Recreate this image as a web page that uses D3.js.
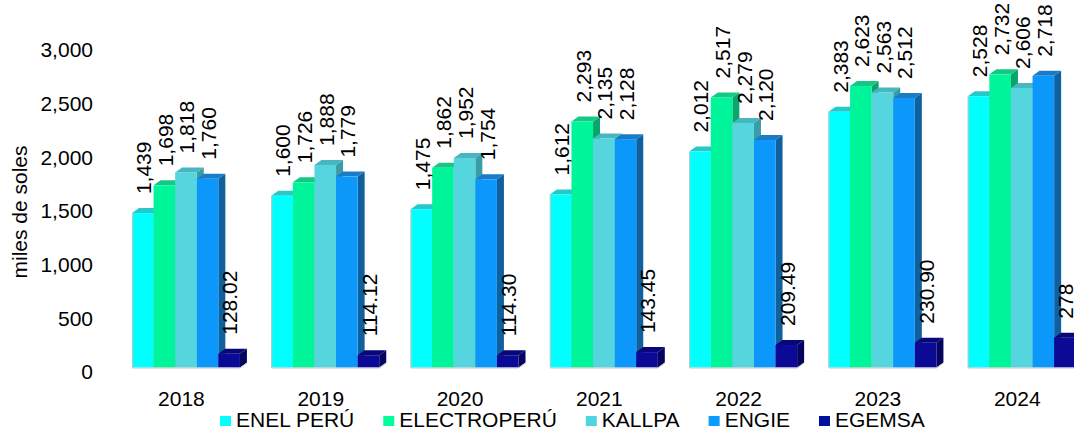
<!DOCTYPE html>
<html>
<head>
<meta charset="utf-8">
<script src="https://cdn.jsdelivr.net/npm/d3@7"></script>
<style>
  html, body { margin: 0; padding: 0; background: #fff; }
  svg { display: block; font-family: "Liberation Sans", Arial, sans-serif; }
</style>
</head>
<body>
<svg id="chart" width="1074" height="429"></svg>
<script>
const years = ["2018", "2019", "2020", "2021", "2022", "2023", "2024"];
const seriesNames = ["ENEL PERÚ", "ELECTROPERÚ", "KALLPA", "ENGIE", "EGEMSA"];
const enel = [1439, 1600, 1475, 1612, 2012, 2383, 2528];
const electroperu = [1698, 1726, 1862, 2293, 2517, 2623, 2732];
const kallpa = [1818, 1888, 1952, 2135, 2279, 2563, 2606];
const engie = [1760, 1779, 1754, 2128, 2120, 2512, 2718];
const egemsa = [128.02, 114.12, 114.30, 143.45, 209.49, 230.90, 278];
const yTicks = [0, 500, 1000, 1500, 2000, 2500, 3000];
const yTitle = "miles de soles";

const seriesValues = [enel, electroperu, kallpa, engie, egemsa];
const frontColors = ["#00FFFF", "#00F59A", "#55D6DE", "#0C98FA", "#0A0A96"];
const topColors   = ["#26C9C9", "#14C983", "#48B6BE", "#1A7CC6", "#07077A"];
const sideColors  = ["#15A9A9", "#0AA56A", "#3A9CA4", "#0E609E", "#050560"];
const legendColors = ["#00FFFF", "#00FF99", "#4DD6DE", "#0A9BFF", "#0010A0"];

const svg = d3.select("#chart");
const DX = 7, DY = 5;

const x = d3.scaleBand().domain(years).range([116.3, 1091.4]).paddingInner(0.225).paddingOuter(0.1125);
const xs = d3.scaleBand().domain(seriesNames).range([0, x.bandwidth()]).padding(0);
const y = d3.scaleLinear().domain([0, 3000]).range([367.5, 45.6]);

// Y axis tick labels
const yAxis = d3.axisLeft(y).tickValues(yTicks).tickFormat(d3.format(",")).tickSize(0).tickPadding(0);
const gy = svg.append("g").attr("transform", "translate(93,4.5)").call(yAxis);
gy.select(".domain").remove();
gy.selectAll("text").attr("font-size", 21).attr("fill", "#000")
  .attr("font-family", "Liberation Sans, Arial, sans-serif");

svg.append("text")
  .attr("transform", "translate(20,212) rotate(-90)")
  .attr("text-anchor", "middle").attr("dy", "0.35em")
  .attr("font-size", 21).text(yTitle);

// Bars
const base = y(0);
years.forEach((yr, i) => {
  const g = svg.append("g");
  const gx = x(yr);
  seriesNames.forEach((s, j) => {
    const v = seriesValues[j][i];
    const bx = gx + xs(s), bw = xs.bandwidth(), by = y(v);
    g.append("path")
      .attr("d", `M${bx + bw},${by} L${bx + bw + DX},${by - DY} L${bx + bw + DX},${base - DY} L${bx + bw},${base} Z`)
      .attr("fill", sideColors[j]);
    g.append("path")
      .attr("d", `M${bx},${by} L${bx + DX},${by - DY} L${bx + bw + DX},${by - DY} L${bx + bw},${by} Z`)
      .attr("fill", topColors[j]);
    g.append("rect").attr("x", bx).attr("y", by).attr("width", bw).attr("height", base - by)
      .attr("fill", frontColors[j]);
  });
  g.append("path")
    .attr("d", `M${gx + 0.5},${y(seriesValues[0][i])} L${gx + 0.5},${base + 0.5} L${gx + x.bandwidth()},${base + 0.5} L${gx + x.bandwidth() + DX},${base - DY + 0.5}`)
    .attr("fill", "none").attr("stroke", "#c4c4c4").attr("stroke-width", 1);
  seriesNames.forEach((s, j) => {
    const v = seriesValues[j][i];
    const cx = gx + xs(s) + xs.bandwidth() / 2 + 1;
    const lbl = j === 4 ? (Number.isInteger(v) ? String(v) : d3.format(".2f")(v)) : d3.format(",")(v);
    svg.append("text")
      .attr("transform", `translate(${cx},${y(v) - 19}) rotate(-90)`)
      .attr("dy", "0.35em").attr("text-anchor", "start")
      .attr("font-size", 21).attr("fill", "#000").text(lbl);
  });
  svg.append("text")
    .attr("x", gx + x.bandwidth() / 2 - 4.5).attr("y", 405.5)
    .attr("text-anchor", "middle").attr("font-size", 21).text(yr);
});

// Legend
let lx = 220;
seriesNames.forEach((s, j) => {
  svg.append("rect").attr("x", lx).attr("y", 416).attr("width", 11).attr("height", 10).attr("fill", legendColors[j]);
  const t = svg.append("text").attr("x", lx + 16).attr("y", 427).attr("font-size", 21).text(s);
  lx += 16 + t.node().getComputedTextLength() + 29;
});
</script>
</body>
</html>
